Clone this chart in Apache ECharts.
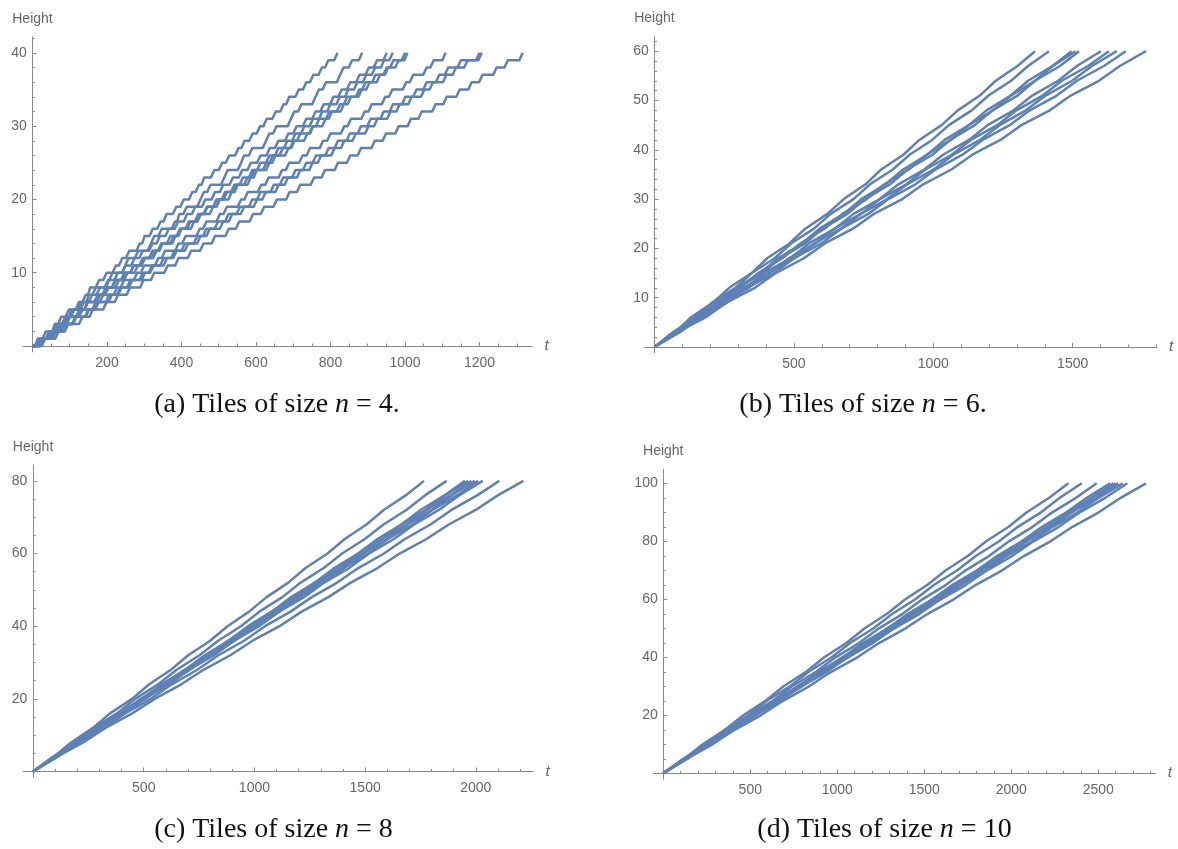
<!DOCTYPE html>
<html>
<head>
<meta charset="utf-8">
<title>Tower height over time</title>
<script src="https://cdn.jsdelivr.net/npm/echarts@6/dist/echarts.min.js"></script>
<style>
  html, body { margin: 0; padding: 0; background: #ffffff; }
  #chart { width: 1178px; height: 849px; }
</style>
</head>
<body>
<div id="chart"></div>
<script>
// ---- data -------------------------------------------------------------
// Each trace lists the times t at which a run's height reaches
// rise, 2*rise, 3*rise, ... ; every run starts at (0, 0).

// n = 4: one entry per unit of height (0 .. 40)
const riseN4 = 1;
const tilesN4 = [
  [14,36,62,77,98,125,143,155,179,199,224,241,260,288,301,323,344,360,386,406,429,447,461,488,509,528,553,569,591,611,629,653,674,689,715,735,754,777,794,819],
  [18,47,60,93,104,138,151,170,206,215,249,258,284,318,327,347,383,394,414,451,460,478,515,524,560,568,590,627,636,655,694,703,722,760,769,788,826,835,858,885],
  [19,45,64,88,112,131,160,181,203,229,250,274,296,322,342,366,391,415,437,464,490,512,538,563,586,612,637,660,687,709,735,760,782,808,830,853,878,903,925,951],
  [27,52,70,101,126,148,175,197,224,247,272,296,322,347,370,396,420,445,468,494,517,542,565,590,612,636,660,684,706,730,753,778,800,825,848,872,896,920,944,967],
  [21,53,72,98,131,148,177,204,222,255,271,302,328,346,379,397,424,452,470,503,522,548,577,596,628,645,672,701,719,752,770,797,826,845,877,894,921,951,969,1000],
  [30,47,81,98,131,149,182,197,232,248,283,299,333,349,384,400,434,450,485,501,535,551,586,602,636,652,687,703,738,753,787,804,836,855,884,905,933,955,983,1007],
  [24,58,79,115,134,170,190,227,246,281,300,338,356,392,411,449,467,503,522,560,578,614,634,670,689,725,745,780,800,837,855,892,911,947,966,1003,1022,1058,1077,1109],
  [26,63,87,118,152,174,213,236,268,302,325,361,387,418,451,476,512,536,568,603,626,661,686,719,752,775,811,837,868,902,926,961,986,1018,1052,1075,1111,1137,1168,1200],
  [34,58,94,117,150,178,206,239,263,296,321,352,381,409,442,467,498,526,557,590,612,648,673,706,735,761,795,820,852,882,908,943,968,1001,1031,1058,1092,1116,1150,1206],
  [29,70,96,134,162,199,230,262,298,327,363,392,426,459,490,527,555,592,622,656,690,719,756,785,820,853,882,919,949,983,1016,1045,1082,1112,1147,1179,1208,1246,1276,1316]
];

// n = 6: every 3 units of height (0 .. 60)
const riseN6 = 3;
const tilesN6 = [
  [75,131,210,268,349,404,484,541,620,679,757,813,893,950,1030,1088,1167,1224,1302,1365],
  [66,147,207,290,349,431,490,572,632,714,773,855,915,996,1056,1138,1198,1279,1340,1415],
  [80,144,230,293,380,443,530,592,679,742,829,892,978,1041,1128,1191,1278,1340,1427,1496],
  [70,157,221,309,372,459,523,610,674,761,825,912,976,1063,1127,1214,1278,1365,1429,1510],
  [83,147,235,299,388,451,540,603,692,756,845,908,997,1060,1149,1212,1302,1365,1454,1523],
  [74,167,234,327,394,487,554,647,714,808,875,968,1035,1128,1195,1288,1355,1448,1515,1601],
  [88,157,251,320,414,483,577,646,740,809,903,972,1066,1135,1229,1298,1392,1461,1555,1630],
  [77,172,243,338,409,503,574,669,740,835,906,1001,1072,1167,1238,1332,1403,1498,1569,1658],
  [91,163,260,332,429,501,598,670,767,839,936,1008,1105,1177,1274,1346,1443,1515,1612,1690],
  [82,183,258,360,435,536,611,712,787,889,964,1065,1140,1241,1316,1418,1493,1594,1669,1763]
];

// n = 8: every 4 units of height (0 .. 80)
const riseN8 = 4;
const tilesN8 = [
  [93,172,270,348,447,525,623,701,800,878,976,1055,1153,1231,1330,1408,1506,1584,1683,1766],
  [88,192,275,379,462,565,649,752,836,939,1022,1126,1209,1313,1396,1499,1583,1686,1770,1868],
  [103,190,298,385,493,580,688,775,883,971,1078,1166,1273,1361,1468,1556,1663,1751,1858,1951],
  [94,201,291,397,487,594,684,790,880,987,1077,1183,1273,1380,1470,1576,1666,1773,1863,1965],
  [104,193,302,391,500,589,698,787,896,985,1094,1183,1292,1381,1490,1579,1688,1777,1886,1980],
  [95,205,294,404,494,604,693,803,893,1003,1092,1202,1292,1402,1491,1601,1691,1801,1890,1995],
  [106,196,307,397,508,598,709,799,910,1000,1111,1201,1312,1402,1513,1603,1714,1804,1915,2010],
  [97,208,300,411,503,614,706,817,909,1021,1112,1224,1315,1427,1518,1630,1721,1833,1924,2031],
  [110,206,321,416,532,627,742,837,953,1048,1163,1259,1374,1469,1585,1680,1795,1890,2006,2106],
  [106,227,327,448,549,670,770,891,992,1113,1213,1334,1435,1556,1656,1777,1878,1999,2099,2215]
];

// n = 10: every 5 units of height (0 .. 100)
const riseN10 = 5;
const tilesN10 = [
  [122,227,355,460,588,692,821,925,1054,1158,1286,1391,1519,1624,1752,1856,1985,2089,2218,2328],
  [114,247,355,487,595,728,836,968,1076,1209,1317,1449,1557,1690,1798,1930,2038,2171,2279,2405],
  [131,243,380,492,629,741,878,990,1127,1240,1376,1489,1625,1738,1874,1987,2123,2236,2372,2491],
  [122,263,379,520,636,776,893,1033,1150,1290,1406,1547,1663,1804,1920,2060,2177,2317,2434,2568],
  [135,253,394,511,653,770,911,1028,1170,1287,1428,1546,1687,1804,1946,2063,2204,2321,2463,2586],
  [124,266,384,526,644,786,904,1046,1164,1306,1424,1566,1684,1826,1944,2086,2204,2346,2464,2600],
  [137,256,398,517,660,779,921,1040,1183,1302,1444,1563,1706,1825,1967,2086,2229,2348,2490,2615],
  [126,270,390,534,654,798,918,1062,1182,1326,1446,1590,1710,1854,1974,2118,2238,2382,2502,2640],
  [139,261,406,527,673,794,939,1061,1206,1328,1473,1594,1740,1861,2006,2128,2273,2394,2540,2667],
  [133,283,410,561,688,838,965,1116,1242,1393,1520,1670,1797,1948,2075,2225,2352,2503,2629,2774]
];

// labelled tick values
const tTicksN4 = [200, 400, 600, 800, 1000, 1200];
const hTicksN4 = [10, 20, 30, 40];
const tTicksN6 = [500, 1000, 1500];
const hTicksN6 = [10, 20, 30, 40, 50, 60];
const tTicksN8 = [500, 1000, 1500, 2000];
const hTicksN8 = [20, 40, 60, 80];
const tTicksN10 = [500, 1000, 1500, 2000, 2500];
const hTicksN10 = [20, 40, 60, 80, 100];

const captions = [
  '(a) Tiles of size {i|n} = 4.',
  '(b) Tiles of size {i|n} = 6.',
  '(c) Tiles of size {i|n} = 8',
  '(d) Tiles of size {i|n} = 10'
];

// ---- layout & style ---------------------------------------------------
const LINE_COLOR = '#5e81b5';
const AXIS_COLOR = '#8a8a8a';
const LABEL_COLOR = '#666666';
const SANS = "'Liberation Sans', Arial, Helvetica, sans-serif";
const SERIF = "'Liberation Serif', 'Times New Roman', Times, serif";

const panels = [
  { traces: tilesN4, rise: riseN4, stairs: true,
    xRange: [-26, 1342], yRange: [-0.8, 42.2],
    tMajor: tTicksN4, tMinorStep: 50, hMajor: hTicksN4, hMinorStep: 2,
    rect: { left: 22.8, top: 36.7, width: 509.6, height: 315.2 },
    captionAt: [277, 405] },
  { traces: tilesN6, rise: riseN6, stairs: false,
    xRange: [-35, 1802], yRange: [-1.2, 63],
    tMajor: tTicksN6, tMinorStep: 100, hMajor: hTicksN6, hMinorStep: 2,
    rect: { left: 644.7, top: 36.4, width: 512.2, height: 316.5 },
    captionAt: [863, 405] },
  { traces: tilesN8, rise: riseN8, stairs: false,
    xRange: [-44, 2260], yRange: [-1.6, 84.4],
    tMajor: tTicksN8, tMinorStep: 100, hMajor: hTicksN8, hMinorStep: 5,
    rect: { left: 23.3, top: 464.9, width: 510.1, height: 312.4 },
    captionAt: [273.5, 830] },
  { traces: tilesN10, rise: riseN10, stairs: false,
    xRange: [-55, 2830], yRange: [-2, 104.8],
    tMajor: tTicksN10, tMinorStep: 100, hMajor: hTicksN10, hMinorStep: 5,
    rect: { left: 653.7, top: 469.4, width: 502, height: 309.7 },
    captionAt: [884.5, 830] }
];

// unlabelled tick positions between the labelled ones
function minorTicks(range, step, majors) {
  const out = [];
  for (let k = Math.ceil(range[0] / step); k * step <= range[1] + 1e-9; k++) {
    const v = Math.round(k * step * 1000) / 1000;
    if (v <= 0 || majors.indexOf(v) !== -1) continue;
    out.push(v);
  }
  return out;
}

// Polyline through the recorded rises. For the stair traces each rise is
// drawn as a short ramp that ends at the recorded time.
function tracePath(times, rise, stairs) {
  const pts = [[0, 0]];
  let prev = 0;
  times.forEach((t, i) => {
    if (stairs) {
      const ramp = Math.min(9, (t - prev) / 2);
      pts.push([t - ramp, i * rise]);
    }
    pts.push([t, (i + 1) * rise]);
    prev = t;
  });
  return pts;
}

const plain = v => String(v);
const grid = [], xAxis = [], yAxis = [], series = [], graphic = [];
const labelFont = { fontFamily: SANS, fontSize: 14, color: LABEL_COLOR };
const tickLine = { color: AXIS_COLOR, width: 1 };

panels.forEach((p, i) => {
  grid.push(Object.assign({ containLabel: false, outerBoundsMode: 'none' }, p.rect));

  // main t axis: line, long ticks, labels
  xAxis.push({
    type: 'value', gridIndex: i, position: 'bottom',
    min: p.xRange[0], max: p.xRange[1],
    name: 't', nameLocation: 'end', nameGap: 12,
    nameTextStyle: { fontFamily: SANS, fontSize: 15, fontStyle: 'italic', color: LABEL_COLOR, verticalAlign: 'middle' },
    axisLine: { show: true, onZero: true, lineStyle: { color: AXIS_COLOR, width: 1 } },
    axisTick: { show: true, inside: true, length: 4, customValues: p.tMajor, lineStyle: tickLine },
    axisLabel: Object.assign({ show: true, margin: 4, formatter: plain, customValues: p.tMajor }, labelFont),
    splitLine: { show: false }, minorTick: { show: false }
  });
  // short ticks only
  xAxis.push({
    type: 'value', gridIndex: i, position: 'bottom',
    min: p.xRange[0], max: p.xRange[1],
    axisLine: { show: false, onZero: true },
    axisTick: { show: true, inside: true, length: 2.5, customValues: minorTicks(p.xRange, p.tMinorStep, p.tMajor), lineStyle: tickLine },
    axisLabel: { show: false }, splitLine: { show: false }
  });

  yAxis.push({
    type: 'value', gridIndex: i, position: 'left',
    min: p.yRange[0], max: p.yRange[1],
    name: 'Height', nameLocation: 'end', nameGap: 11,
    nameTextStyle: { fontFamily: SANS, fontSize: 14, color: LABEL_COLOR },
    axisLine: { show: true, onZero: true, lineStyle: { color: AXIS_COLOR, width: 1 } },
    axisTick: { show: true, inside: true, length: 4, customValues: p.hMajor, lineStyle: tickLine },
    axisLabel: Object.assign({ show: true, margin: -4, formatter: plain, customValues: p.hMajor }, labelFont),
    splitLine: { show: false }, minorTick: { show: false }
  });
  yAxis.push({
    type: 'value', gridIndex: i, position: 'left',
    min: p.yRange[0], max: p.yRange[1],
    axisLine: { show: false, onZero: true },
    axisTick: { show: true, inside: true, length: 2.5, customValues: minorTicks(p.yRange, p.hMinorStep, p.hMajor), lineStyle: tickLine },
    axisLabel: { show: false }, splitLine: { show: false }
  });

  p.traces.forEach(times => {
    series.push({
      type: 'line', xAxisIndex: 2 * i, yAxisIndex: 2 * i,
      data: tracePath(times, p.rise, p.stairs),
      symbol: 'none', showSymbol: false, silent: true,
      lineStyle: { color: LINE_COLOR, width: 2.5, join: 'round' },
      itemStyle: { color: LINE_COLOR },
      emphasis: { disabled: true },
      animation: false
    });
  });

  graphic.push({
    type: 'text', x: p.captionAt[0], y: p.captionAt[1], silent: true,
    style: {
      text: captions[i],
      fontFamily: SERIF, fontSize: 28, fill: '#111111',
      align: 'center', verticalAlign: 'middle',
      rich: { i: { fontFamily: SERIF, fontSize: 28, fontStyle: 'italic', fill: '#111111' } }
    }
  });
});

const chart = echarts.init(document.getElementById('chart'), null, { renderer: 'canvas' });
chart.setOption({
  backgroundColor: '#ffffff',
  animation: false,
  grid, xAxis, yAxis, series, graphic,
  tooltip: { show: false }
});
</script>
</body>
</html>
